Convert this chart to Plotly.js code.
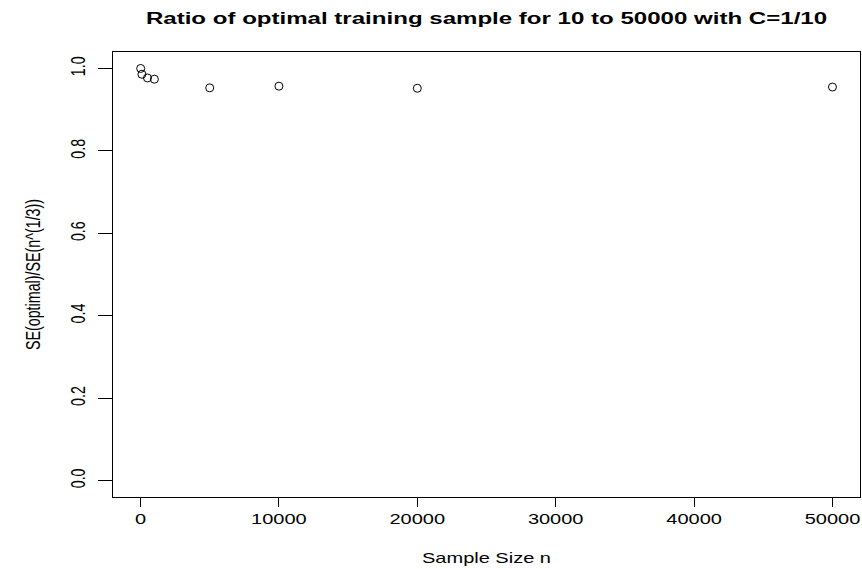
<!DOCTYPE html>
<html>
<head>
<meta charset="utf-8">
<script src="https://cdn.plot.ly/plotly-3.0.1.min.js"></script>
<style>html,body{margin:0;padding:0;background:#fff;}#chart{width:862px;height:569px;}</style>
</head>
<body>
<div id="chart"></div>
<script>
var sampleSizes = [10, 100, 500, 1000, 5000, 10000, 20000, 50000];
var seRatio = [1.000, 0.986, 0.977, 0.974, 0.953, 0.957, 0.952, 0.955];
var xTickVals = [0, 10000, 20000, 30000, 40000, 50000];
var yTickVals = [0.0, 0.2, 0.4, 0.6, 0.8, 1.0];
var chartTitle = 'Ratio of optimal training sample for 10 to 50000 with C=1/10';
var xTitle = 'Sample Size n';
var yTitle = 'SE(optimal)/SE(n^(1/3))';

var FONT = 'Liberation Sans, Arial, Helvetica, sans-serif';
var TXT = 14.3;

var trace = {
  x: sampleSizes,
  y: seRatio,
  type: 'scatter',
  mode: 'markers',
  marker: {symbol: 'circle-open', size: 8, color: '#000', line: {width: 1, color: '#000'}},
  hoverinfo: 'none'
};

var layout = {
  width: 862, height: 569,
  paper_bgcolor: '#fff', plot_bgcolor: '#fff',
  margin: {l: 113, r: 2, t: 52, b: 72},
  showlegend: false,
  font: {family: FONT, color: '#000', size: TXT},
  title: {
    text: '<b>' + chartTitle + '</b>',
    font: {family: FONT, size: 17.2, color: '#000'},
    xref: 'paper', x: 0.5, xanchor: 'center',
    yref: 'container', y: 1 - 18 / 569, yanchor: 'middle'
  },
  xaxis: {
    range: [-1990, 51990],
    tickvals: xTickVals,
    ticktext: xTickVals.map(String),
    ticks: 'outside', ticklen: 9, tickwidth: 1, tickcolor: '#000',
    showgrid: false, zeroline: false,
    showline: true, linecolor: '#000', linewidth: 1, mirror: true,
    tickfont: {size: TXT},
    automargin: false,
    title: {text: xTitle, font: {size: TXT}, standoff: 26}
  },
  yaxis: {
    range: [-0.04, 1.04],
    tickvals: yTickVals,
    ticktext: yTickVals.map(function(v){return v.toFixed(1);}),
    tickangle: -90,
    ticks: 'outside', ticklen: 14, tickwidth: 1, tickcolor: '#000',
    ticklabelstandoff: 9,
    showgrid: false, zeroline: false,
    showline: true, linecolor: '#000', linewidth: 1, mirror: true,
    tickfont: {size: TXT},
    automargin: false,
    title: {text: yTitle, font: {size: TXT}, standoff: 28}
  }
};

function stretchText() {
  var svgs = document.querySelectorAll('#chart svg.main-svg');
  svgs.forEach(function(svg){
    svg.querySelectorAll('text').forEach(function(el){
      if (!el.textContent.trim()) return;
      var r = el.getBoundingClientRect();
      var cx = r.left + r.width / 2, cy = r.top + r.height / 2;
      var ctm = el.parentNode.getScreenCTM();
      if (!ctm) return;
      var pt = svg.createSVGPoint(); pt.x = cx; pt.y = cy;
      var lp = pt.matrixTransform(ctm.inverse());
      var existing = el.getAttribute('transform') || '';
      el.setAttribute('transform',
        'translate(' + lp.x + ',' + lp.y + ') scale(1.4,1) translate(' + (-lp.x) + ',' + (-lp.y) + ') ' + existing);
    });
  });
}

Plotly.newPlot('chart', [trace], layout, {displayModeBar: false, staticPlot: true}).then(stretchText);
</script>
</body>
</html>
